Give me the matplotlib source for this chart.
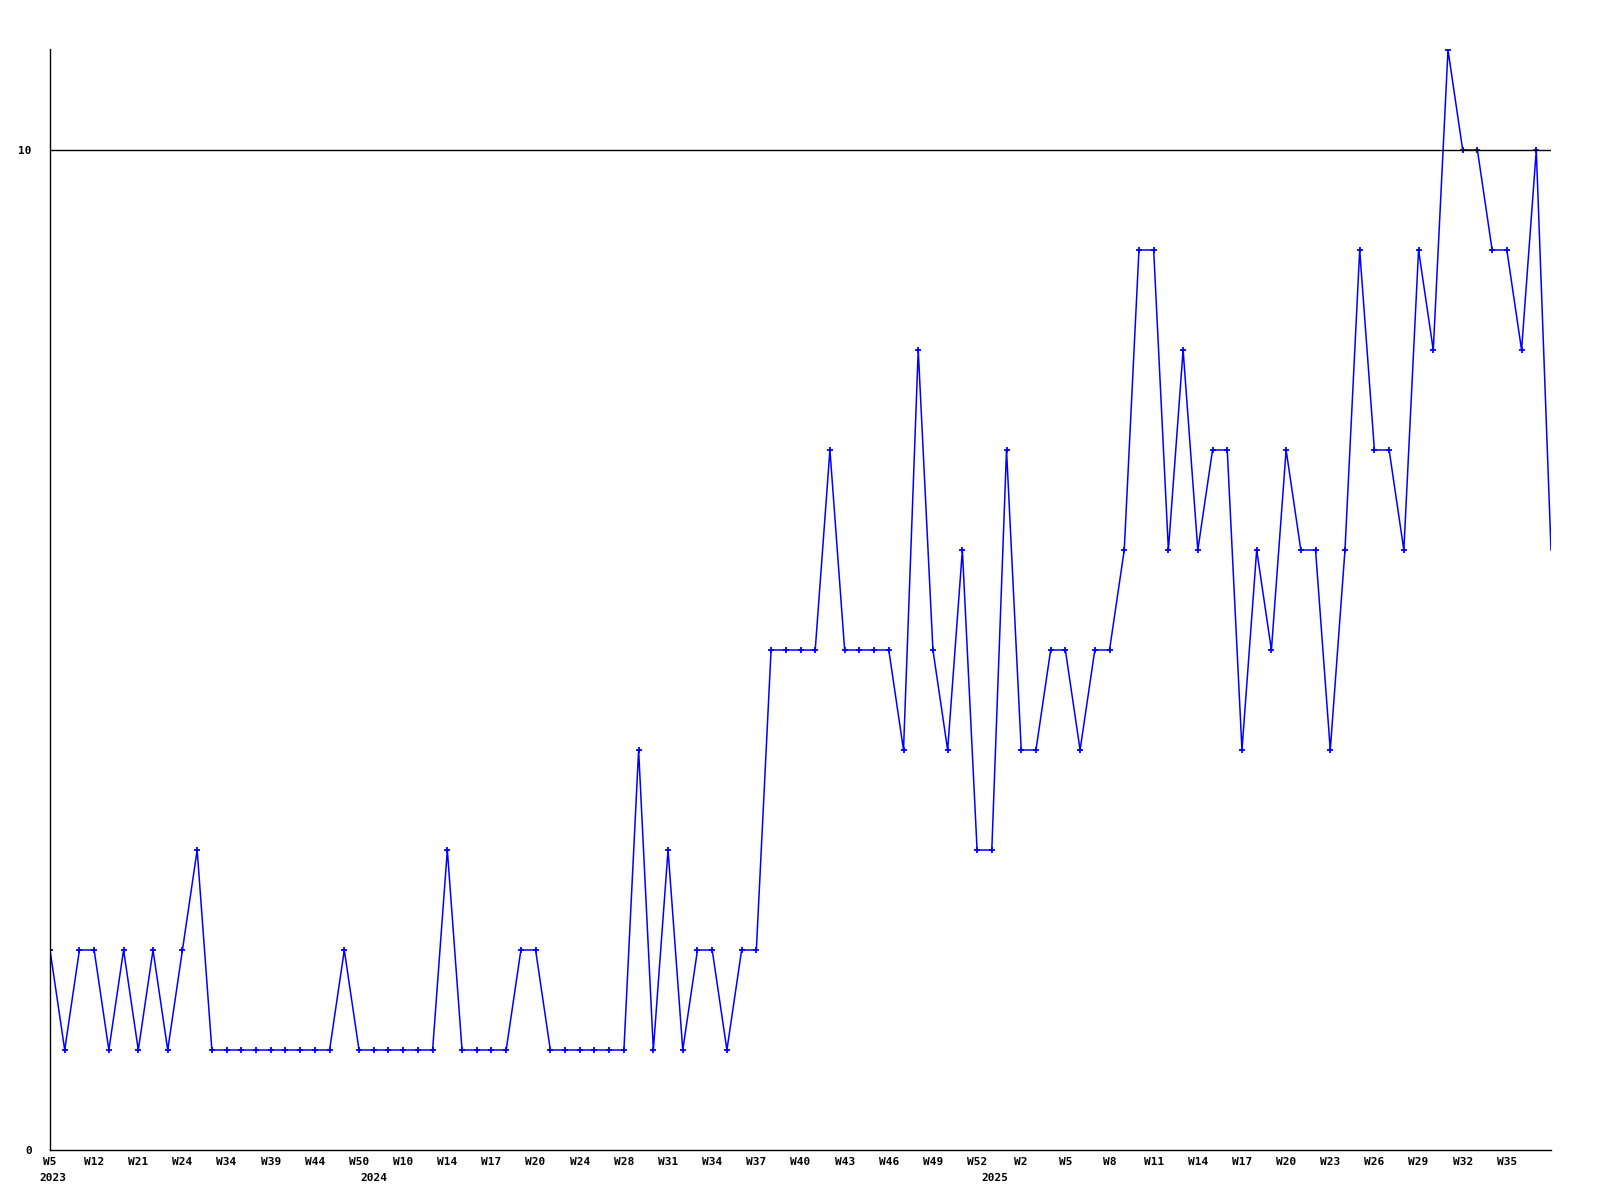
import matplotlib
matplotlib.use("Agg")
import matplotlib.pyplot as plt

# weekly counts, one point per week with data
values = [2, 1, 2, 2, 1, 2, 1, 2, 1, 2,
          3, 1, 1, 1, 1, 1, 1, 1, 1, 1,
          2, 1, 1, 1, 1, 1, 1, 3, 1, 1,
          1, 1, 2, 2, 1, 1, 1, 1, 1, 1,
          4, 1, 3, 1, 2, 2, 1, 2, 2, 5,
          5, 5, 5, 7, 5, 5, 5, 5, 4, 8,
          5, 4, 6, 3, 3, 7, 4, 4, 5, 5,
          4, 5, 5, 6, 9, 9, 6, 8, 6, 7,
          7, 4, 6, 5, 7, 6, 6, 4, 6, 9,
          7, 7, 6, 9, 8, 11, 10, 10, 9, 9,
          8, 10, 6]

week_labels = ["W5", "W12", "W21", "W24", "W34", "W39", "W44", "W50",
               "W10", "W14", "W17", "W20", "W24", "W28", "W31", "W34",
               "W37", "W40", "W43", "W46", "W49", "W52", "W2", "W5",
               "W8", "W11", "W14", "W17", "W20", "W23", "W26", "W29",
               "W32", "W35"]
years = ["2023", "2024", "2025"]
year_pos = [0.2, 22, 64.2]

font = {"family": "DejaVu Sans Mono", "weight": "bold", "size": 8}

fig = plt.figure(figsize=(16, 12), dpi=100)
ax = fig.add_axes([50 / 1600, 50 / 1200, 1501 / 1600, 1101 / 1200])

x = list(range(len(values)))
ax.plot(x, values, color="#0000ff", lw=1.1)
ax.plot(x[:-1], values[:-1], ls="none", marker="+", ms=4, mew=1.3,
        color="#0000ff")

ax.axhline(10, color="black", lw=1)

ax.set_xlim(0, len(values) - 1)
ax.set_ylim(0, 11.01)

for s in ["top", "right"]:
    ax.spines[s].set_visible(False)
for s in ["left", "bottom"]:
    ax.spines[s].set_linewidth(1)

ax.set_yticks([0, 10])
ax.set_yticklabels(["0", "10"], fontdict=font)
ax.tick_params(axis="y", length=0, pad=13)

ax.set_xticks(range(0, 3 * len(week_labels), 3))
ax.set_xticklabels(week_labels, fontdict=font)
ax.tick_params(axis="x", length=0, pad=5)

for yr, p in zip(years, year_pos):
    ax.annotate(yr, xy=(p, 0), xycoords=("data", "axes fraction"),
                xytext=(0, -20), textcoords="offset points",
                ha="center", va="center", **font)

fig.savefig("out.png", dpi=100)
